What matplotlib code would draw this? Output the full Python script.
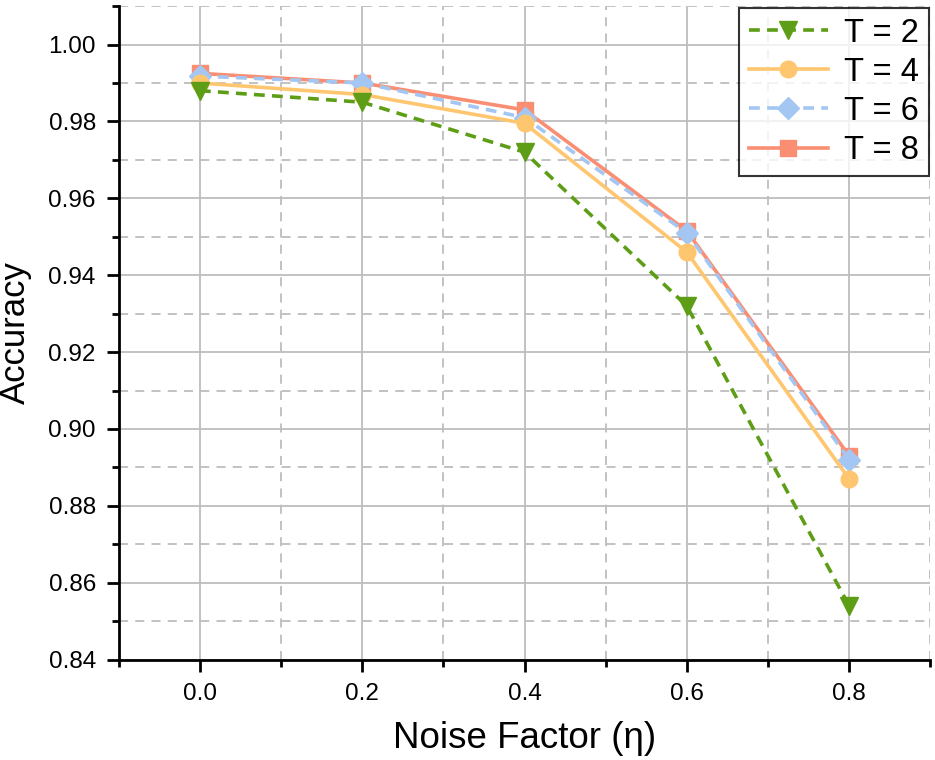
import numpy as np
import matplotlib
matplotlib.use("Agg")
import matplotlib.pyplot as plt
from matplotlib.ticker import MultipleLocator, FormatStrFormatter

plt.rcParams['font.family'] = ['Liberation Sans', 'DejaVu Sans']

noise = [0.0, 0.2, 0.4, 0.6, 0.8]
acc_t2 = [0.988, 0.985, 0.972, 0.932, 0.854]
acc_t4 = [0.990, 0.987, 0.9795, 0.946, 0.887]
acc_t6 = [0.9918, 0.990, 0.981, 0.951, 0.892]
acc_t8 = [0.9925, 0.990, 0.983, 0.9515, 0.893]

fig = plt.figure(figsize=(9.35, 7.6), dpi=100)
ax = fig.add_axes([0.127, 0.132, 0.868, 0.86])

ax.plot(noise, acc_t8, color="#FA8E72", lw=2.6, marker="s", ms=11, label="T = 8", zorder=3)
ax.plot(noise, acc_t6, color="#A3C6F2", lw=2.6, ls=(0, (3, 2)), marker="D", ms=11, label="T = 6", zorder=4)
ax.plot(noise, acc_t4, color="#FFC670", lw=2.6, marker="o", ms=12, label="T = 4", zorder=5)
ax.plot(noise, acc_t2, color="#5E9E16", lw=2.6, ls=(0, (3, 2)), marker="v", ms=13, label="T = 2", zorder=6)

ax.set_xlim(-0.1, 0.9)
ax.set_ylim(0.84, 1.01)
ax.xaxis.set_minor_locator(MultipleLocator(0.1))
ax.yaxis.set_minor_locator(MultipleLocator(0.01))
ax.set_xticks(noise)
ax.set_yticks(np.arange(0.84, 1.001, 0.02))
ax.xaxis.set_major_formatter(FormatStrFormatter("%.1f"))
ax.yaxis.set_major_formatter(FormatStrFormatter("%.2f"))

ax.grid(which="major", color="#BDBDBD", lw=1.3, ls="-")
ax.grid(which="minor", color="#BDBDBD", lw=1.3, ls=(0, (5, 4)))
ax.set_axisbelow(True)

for s in ["top", "right"]:
    ax.spines[s].set_visible(False)
for s in ["left", "bottom"]:
    ax.spines[s].set_linewidth(2)
ax.tick_params(which="major", direction="out", length=8.5, width=2, labelsize=17.5, pad=8)
ax.tick_params(which="minor", direction="out", length=5, width=2)

ax.set_xlabel("Noise Factor (η)", fontsize=26.5, labelpad=12)
ax.set_ylabel("Accuracy", fontsize=25, labelpad=12)

handles, labels = ax.get_legend_handles_labels()
leg = ax.legend(handles[::-1], labels[::-1], loc="upper right", fontsize=23.5,
                frameon=True, fancybox=False, edgecolor="black",
                borderaxespad=0.05, handlelength=2.4, labelspacing=0.25,
                borderpad=0.3, handletextpad=0.5)
leg.get_frame().set_linewidth(1.5)

fig.savefig("out.png", dpi=100)
